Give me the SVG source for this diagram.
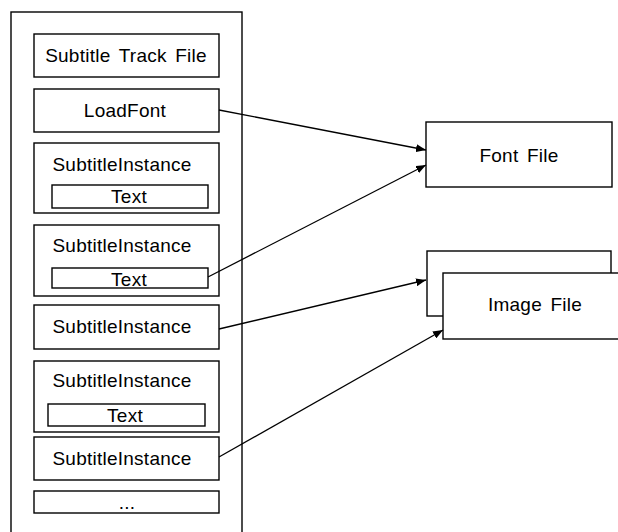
<svg xmlns="http://www.w3.org/2000/svg" width="618" height="532" viewBox="0 0 618 532">
<defs>
<marker id="ah" viewBox="0 0 10 8" refX="10" refY="4" markerWidth="10" markerHeight="8" markerUnits="userSpaceOnUse" orient="auto">
<path d="M0,0 L10,4 L0,8 Z" fill="#000"/>
</marker>
</defs>
<style>
rect{fill:#fff;stroke:#000;stroke-width:1.4}
text{font-family:"Liberation Sans",Arial,sans-serif;font-size:19px;fill:#000;text-anchor:middle;letter-spacing:0.25px;word-spacing:3px}
.c{stroke:#000;stroke-width:1.3;fill:none;marker-end:url(#ah)}
</style>
<rect x="0" y="0" width="618" height="532" style="stroke:none"/>
<g id="container"><rect x="11" y="12" width="231" height="530"/></g>
<g id="track"><rect x="34" y="34" width="185" height="43"/><text x="126" y="62">Subtitle Track File</text></g>
<g id="loadfont"><rect x="34" y="89" width="185" height="43"/><text x="125" y="117">LoadFont</text></g>
<g id="inst1"><rect x="34" y="143" width="185" height="70"/><text x="122" y="171">SubtitleInstance</text>
<rect x="52" y="185" width="156" height="23"/><text x="129" y="203">Text</text></g>
<g id="inst2"><rect x="34" y="225" width="185" height="71"/><text x="122" y="252">SubtitleInstance</text>
<rect x="52" y="268" width="156" height="20"/><text x="129" y="286">Text</text></g>
<g id="inst3"><rect x="34" y="305" width="185" height="44"/><text x="122" y="333">SubtitleInstance</text></g>
<g id="inst4"><rect x="34" y="361" width="185" height="71"/><text x="122" y="387">SubtitleInstance</text>
<rect x="48" y="404" width="157" height="22"/><text x="125" y="422">Text</text></g>
<g id="inst5"><rect x="34" y="437" width="185" height="43"/><text x="122" y="465">SubtitleInstance</text></g>
<g id="more"><rect x="34" y="491" width="185" height="22"/><text x="127" y="509">...</text></g>
<g id="fontfile"><rect x="426" y="122" width="186" height="65"/><text x="519" y="162">Font File</text></g>
<g id="imagefile"><rect x="427" y="251" width="184" height="65"/><rect x="443" y="273" width="180" height="66"/><text x="535" y="311">Image File</text></g>
<g id="connectors">
<line class="c" x1="219" y1="110" x2="426" y2="150"/>
<line class="c" x1="208" y1="277" x2="426" y2="165"/>
<line class="c" x1="219" y1="329" x2="426" y2="280"/>
<line class="c" x1="219" y1="457" x2="443" y2="330"/>
</g>
</svg>
